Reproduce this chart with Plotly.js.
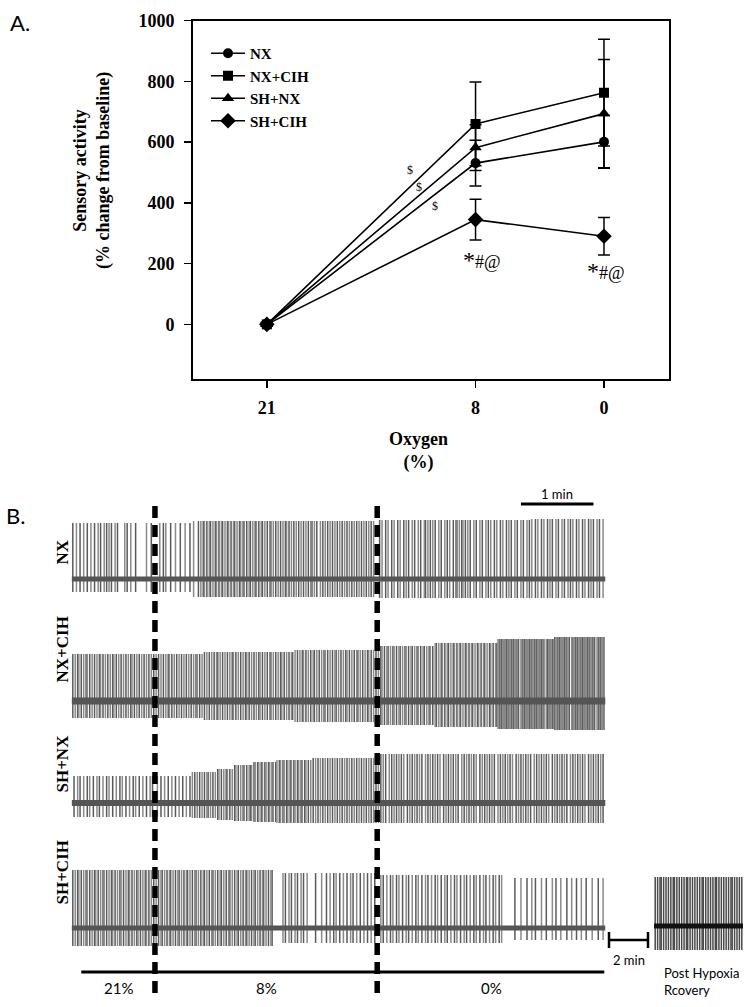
<!DOCTYPE html>
<html><head><meta charset="utf-8">
<script src="https://cdn.plot.ly/plotly-3.0.1.min.js"></script>
<style>html,body{margin:0;padding:0;background:#fff}#chart{width:745px;height:1007px}</style>
</head><body><div id="chart"></div>
<script>
// ---------------- Panel A data ----------------
const oxygenLevels = [21, 8, 0];
const oxygenTickLabels = ['21', '8', '0'];
const yTickValues = [0, 200, 400, 600, 800, 1000];
const groupNames = ['NX', 'NX+CIH', 'SH+NX', 'SH+CIH'];
const nxMean = [0, 531, 601];
const nxSem = [6, 75, 87];
const nxCihMean = [0, 660, 763];
const nxCihSem = [6, 138, 176];
const shNxMean = [0, 582, 694];
const shNxSem = [6, 75, 178];
const shCihMean = [0, 345, 290];
const shCihSem = [6, 67, 62];
const dollarMarks = [[12.1, 508], [11.5, 452], [10.5, 390]];
const sigMarks = [[7.6, 212], [-0.1, 176]];

// ---------------- Panel B data (spike times, s) ----------------
const rowLabels = ['NX', 'NX+CIH', 'SH+NX', 'SH+CIH'];
const conditionLabels = ['21%', '8%', '0%'];
const conditionChanges = [69, 253];
const recordingEnd = 442;
const scaleBarSeconds = 60;

const nxSpikes = [1,4,7,10,13,16,19,22,24,27,29,31,33,36,38,44,46,49,53,62,66,
 73,76,78,82,86,90,94,98,101,
 105,107,109,110,112,114,115,117,119,120,122,124,125,127,129,130,132,134,135,137,139,140,142,143,145,147,148,150,152,153,155,157,158,160,162,164,165,167,169,171,173,175,177,178,180,182,184,186,188,190,192,194,196,198,199,201,203,206,208,210,212,214,216,218,220,222,224,226,228,230,232,234,236,238,240,242,244,246,248,250,
 255,257,260,262,265,267,270,272,275,277,279,282,284,287,289,292,293,295,297,299,301,304,306,309,311,313,316,318,319,321,323,324,326,328,330,333,335,338,340,343,345,347,350,352,355,357,360,362,364,367,369,372,374,377,379,381,384,386,389,391,394,396,398,401,403,406,408,411,413,415,418,420,423,425,428,430,432,435,437,440];
const nxEnvT = [0, 100, 253, 380];
const nxEnvTop = [56, 58, 59, 60];
const nxEnvBot = [13, 18, 19, 19];

const nxCihSpikes = [1,3,5,6,8,10,12,13,15,17,19,21,23,24,26,28,30,32,34,35,37,39,41,43,45,47,49,50,52,54,56,58,60,62,64,66,68,
 70,72,74,76,78,80,81,83,85,87,89,91,93,95,97,99,101,103,104,106,108,110,112,114,116,118,120,121,123,125,127,129,131,133,134,136,138,140,142,144,145,147,149,151,153,155,156,158,160,162,164,165,167,169,171,173,174,176,178,180,182,183,185,187,189,191,192,194,196,198,200,201,203,205,207,209,210,212,214,216,218,219,221,223,225,227,228,230,232,234,236,237,239,241,243,245,246,248,250,252,
 254,256,257,259,261,262,264,266,267,269,271,272,274,276,277,279,281,282,284,286,287,289,291,292,294,296,297,299,301,302,304,306,307,309,311,312,314,316,317,319,321,322,324,326,327,329,331,332,334,336,337,339,341,342,344,346,347,349,351,352,
 353,354,355,356,357,358,359,360,361,362,363,364,365,366,367,368,369,370,372,373,374,375,376,377,378,379,380,381,382,383,384,385,386,387,388,389,390,391,393,394,395,396,397,398,399,400,401,402,403,404,405,406,407,408,409,410,411,412,414,415,416,417,418,419,420,421,422,423,424,425,426,427,428,429,430,431,432,433,435,436,437,438,439,440,441];
const nxCihEnvT = [0, 110, 185, 253, 300, 353, 400];
const nxCihEnvTop = [47, 49, 51, 55, 58, 62, 64];
const nxCihEnvBot = [17, 19, 21, 24, 26, 28, 29];

const shNxSpikes = [2,5,7,10,13,15,18,21,23,26,29,31,34,37,40,42,45,48,51,53,56,59,62,65,67,
 71,74,77,80,83,86,89,92,95,98,100,102,104,106,108,110,112,113,115,117,119,121,122,124,126,128,129,131,133,135,136,138,140,142,143,145,147,148,149,151,152,154,155,157,158,160,161,163,164,166,167,169,170,172,173,175,176,178,179,181,182,184,185,187,188,190,191,193,194,196,198,200,202,204,206,208,210,212,214,216,218,220,222,224,226,228,230,232,234,236,238,240,242,244,246,248,250,252,
 254,256,258,260,263,265,267,269,271,273,275,278,280,282,284,286,288,290,293,295,297,299,301,303,305,308,310,312,314,316,318,320,323,325,327,329,331,333,335,338,340,342,344,346,348,350,353,355,357,359,361,363,365,368,370,372,374,376,378,380,383,385,387,389,391,393,395,398,400,402,404,406,408,410,413,415,417,419,421,423,425,428,430,432,434,436,438,440];
const shNxEnvT = [0, 100, 120, 135, 150, 170, 200, 253];
const shNxEnvTop = [27, 31, 34, 38, 41, 43, 45, 49];
const shNxEnvBot = [14, 15, 17, 18, 19, 20, 20, 20];

const shCihSpikes = [1,3,5,6,8,10,12,13,15,17,19,20,22,24,26,27,29,31,33,34,36,38,40,41,43,45,47,48,50,52,54,55,57,59,61,62,64,66,68,
 70,72,74,75,77,79,81,82,84,86,88,89,91,93,95,96,98,100,102,103,105,107,109,110,112,114,116,117,119,121,123,124,126,128,130,131,133,135,137,138,140,142,144,145,147,149,151,152,154,156,158,159,161,163,165,166,
 175,177,180,182,185,187,190,192,195,202,207,211,214,217,219,222,225,228,231,233,236,239,242,245,248,251,
 256,258,261,264,266,269,271,274,277,279,282,285,287,290,293,295,298,301,303,306,309,311,314,317,319,322,325,327,330,333,335,338,341,343,346,349,351,354,356,
 367,372,377,381,384,389,393,398,401,405,410,414,418,422,426,431,436,440];
const shCihEnvT = [0, 167, 253, 357];
const shCihEnvTop = [58, 55, 53, 50];
const shCihEnvBot = [18, 15, 15, 12];

const recoverySpikes = [1,3,5,6,8,10,12,14,16,17,19,21,23,25,27,28,30,32,34,36,38,40,41,43,45,47,49,51,52,54,56,58,60,62,64,65,67,69,71,73];
const recoveryEnd = 74;
const recoveryTop = 49;
const recoveryBot = 24;

// ---------------- helpers ----------------
const W = 745, H = 1007;
const px = v => v / W;
const py = v => 1 - v / H;
const serif = 'Liberation Serif, Times New Roman, serif';
const sans = 'Lato, Open Sans, sans-serif';
const spikeShades = ['#5a5a5a', '#8a8a8a'];

function envLookup(t, envT, vals) {
  let v = vals[0];
  for (let i = 0; i < envT.length; i++) if (t >= envT[i]) v = vals[i];
  return v;
}
function spikeTraces(times, envT, top, bot, basePx, xa) {
  const xs = [[], []], ys = [[], []];
  times.forEach((t, i) => {
    const k = i % 2;
    xs[k].push(t, t, null);
    ys[k].push(-basePx + envLookup(t, envT, top), -basePx - envLookup(t, envT, bot), null);
  });
  return [0, 1].map(k => ({
    type: 'scatter', mode: 'lines', x: xs[k], y: ys[k], xaxis: xa, yaxis: 'y2',
    line: {color: spikeShades[k], width: 1.5}, hoverinfo: 'skip', showlegend: false
  }));
}
function baseline(end, basePx, xa, color, width) {
  return {type: 'scatter', mode: 'lines', x: [0, end], y: [-basePx, -basePx], xaxis: xa, yaxis: 'y2',
    line: {color: color, width: width}, hoverinfo: 'skip', showlegend: false};
}

// ---------------- Panel A traces ----------------
const symbols = ['circle', 'square', 'triangle-up', 'diamond'];
const sizes = [10, 10, 11, 12];
const means = [nxMean, nxCihMean, shNxMean, shCihMean];
const sems = [nxSem, nxCihSem, shNxSem, shCihSem];
const traces = [];
groupNames.forEach((g, i) => {
  traces.push({
    type: 'scatter', mode: 'lines+markers', name: g, x: oxygenLevels, y: means[i],
    xaxis: 'x', yaxis: 'y',
    line: {color: '#000', width: 1.6},
    marker: {symbol: symbols[i], size: sizes[i], color: '#000'},
    error_y: {type: 'data', array: sems[i], visible: true, color: '#000', thickness: 1.5, width: 6}
  });
});

// ---------------- Panel B traces ----------------
const rowBase = [579, 701, 803, 928];
const rows = [
  [nxSpikes, nxEnvT, nxEnvTop, nxEnvBot, 5],
  [nxCihSpikes, nxCihEnvT, nxCihEnvTop, nxCihEnvBot, 7],
  [shNxSpikes, shNxEnvT, shNxEnvTop, shNxEnvBot, 6],
  [shCihSpikes, shCihEnvT, shCihEnvTop, shCihEnvBot, 5]
];
rows.forEach((r, i) => {
  spikeTraces(r[0], r[1], r[2], r[3], rowBase[i], 'x2').forEach(t => traces.push(t));
  traces.push(baseline(recordingEnd, rowBase[i], 'x2', '#555555', r[4]));
});
spikeTraces(recoverySpikes, [0], [recoveryTop], [recoveryBot], 926, 'x3').forEach(t => { t.line.color = '#4a4a4a'; traces.push(t); });
traces.push(baseline(recoveryEnd, 926, 'x3', '#111', 5));

// ---------------- annotations ----------------
const ann = [];
ann.push({xref: 'paper', yref: 'paper', x: px(8), y: py(22), xanchor: 'left', yanchor: 'middle', text: 'A.', showarrow: false, font: {family: sans, size: 22, color: '#000'}});
ann.push({xref: 'paper', yref: 'paper', x: px(4), y: py(515), xanchor: 'left', yanchor: 'middle', text: 'B.', showarrow: false, font: {family: sans, size: 22, color: '#000'}});
ann.push({xref: 'paper', yref: 'paper', x: px(92), y: py(171), xanchor: 'center', yanchor: 'middle', textangle: -90,
  text: '<b>Sensory activity<br>(% change from baseline)</b>', showarrow: false, font: {family: serif, size: 18, color: '#000'}});
ann.push({xref: 'paper', yref: 'paper', x: px(418), y: py(451), xanchor: 'center', yanchor: 'middle',
  text: '<b>Oxygen<br>(%)</b>', showarrow: false, font: {family: serif, size: 18, color: '#000'}});
dollarMarks.forEach(d => ann.push({xref: 'x', yref: 'y', x: d[0], y: d[1], text: '&#36;', showarrow: false, font: {family: serif, size: 12, color: '#000000'}}));
sigMarks.forEach(d => ann.push({xref: 'x', yref: 'y', x: d[0], y: d[1], text: '<span style="font-size:24px">*</span>#@', showarrow: false, font: {family: serif, size: 18, color: '#000'}}));
rowLabels.forEach((l, i) => ann.push({xref: 'paper', yref: 'paper', x: px(50), y: py([552, 685, 795, 907][i]), textangle: -90,
  text: '<b>' + l + '</b>', showarrow: false, font: {family: serif, size: 17, color: '#000'}}));
ann.push({xref: 'x2', yref: 'y2', x: recordingEnd - 10 - scaleBarSeconds / 2, y: -494, text: '1 min', showarrow: false, font: {family: sans, size: 13, color: '#000'}});
const condCenters = [0, 1, 2].map(i => {
  const b = [8, conditionChanges[0], conditionChanges[1], recordingEnd];
  return (b[i] + b[i + 1]) / 2;
});
conditionLabels.forEach((l, i) => ann.push({xref: 'x2', yref: 'y2', x: condCenters[i], y: -988, text: l, showarrow: false, font: {family: sans, size: 15, color: '#000'}}));
ann.push({xref: 'paper', yref: 'paper', x: px(629), y: py(960), xanchor: 'center', yanchor: 'middle', text: '2 min', showarrow: false, font: {family: sans, size: 13, color: '#000'}});
ann.push({xref: 'paper', yref: 'paper', x: px(662), y: py(981), xanchor: 'left', yanchor: 'middle', align: 'left', text: 'Post Hypoxia<br>Rcovery', showarrow: false, font: {family: sans, size: 13, color: '#000'}});

// ---------------- shapes ----------------
const shapes = [];
conditionChanges.forEach(t => shapes.push({type: 'line', xref: 'x2', yref: 'y2', x0: t, x1: t, y0: -506, y1: -998, line: {color: '#000', width: 5.5, dash: '12px,7px'}}));
shapes.push({type: 'line', xref: 'x2', yref: 'y2', x0: recordingEnd - 10 - scaleBarSeconds, x1: recordingEnd - 10, y0: -504, y1: -504, line: {color: '#000', width: 3}});
shapes.push({type: 'line', xref: 'x2', yref: 'y2', x0: 8, x1: recordingEnd - 1, y0: -972, y1: -972, line: {color: '#000', width: 3}});
shapes.push({type: 'line', xref: 'paper', yref: 'paper', x0: px(609), x1: px(648), y0: py(940), y1: py(940), line: {color: '#000', width: 2.5}});
shapes.push({type: 'line', xref: 'paper', yref: 'paper', x0: px(609), x1: px(609), y0: py(932), y1: py(948), line: {color: '#000', width: 2.5}});
shapes.push({type: 'line', xref: 'paper', yref: 'paper', x0: px(648), x1: px(648), y0: py(932), y1: py(948), line: {color: '#000', width: 2.5}});

const axFont = {family: serif, size: 18, color: '#000', weight: 'bold'};
const layout = {
  width: W, height: H, margin: {l: 0, r: 0, t: 0, b: 0},
  paper_bgcolor: '#fff', plot_bgcolor: 'rgba(0,0,0,0)',
  font: {family: serif, color: '#000'},
  showlegend: true,
  legend: {x: px(206), y: py(37), xanchor: 'left', yanchor: 'top', bgcolor: 'rgba(0,0,0,0)',
    font: {family: serif, size: 15, color: '#000', weight: 'bold'}, tracegroupgap: 0, itemwidth: 34},
  xaxis: {domain: [px(193), px(669)], range: [25.6, -4.05], tickvals: oxygenLevels, ticktext: oxygenTickLabels,
    showline: true, mirror: true, linecolor: '#000', linewidth: 2, ticks: 'outside', ticklen: 7, tickwidth: 1.5, tickcolor: '#000',
    showgrid: false, zeroline: false, tickfont: axFont, anchor: 'y', fixedrange: true, ticklabelstandoff: 4},
  yaxis: {domain: [py(379), py(20.7)], range: [-180, 1000], tickvals: yTickValues,
    showline: true, mirror: true, linecolor: '#000', linewidth: 2, ticks: 'outside', ticklen: 7, tickwidth: 1.5, tickcolor: '#000',
    showgrid: false, zeroline: false, tickfont: axFont, anchor: 'x', fixedrange: true, ticklabelstandoff: 6},
  xaxis2: {domain: [px(71.6), px(605.5)], range: [0, recordingEnd], visible: false, anchor: 'y2'},
  xaxis3: {domain: [px(654), px(743)], range: [0, recoveryEnd], visible: false, anchor: 'y2'},
  yaxis2: {domain: [0, 1], range: [-H, 0], visible: false, anchor: 'x2'},
  annotations: ann,
  shapes: shapes
};
Plotly.newPlot('chart', traces, layout, {staticPlot: true, displayModeBar: false});
</script></body></html>
